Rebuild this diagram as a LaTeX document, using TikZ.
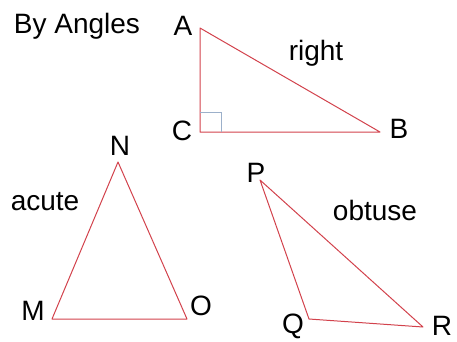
\documentclass[tikz,border=0pt]{standalone}
\usepackage{fontspec}
\setmainfont{Liberation Sans}
\definecolor{tri-red}{HTML}{D2424C}
\definecolor{tri-mark}{HTML}{9CB0CA}

\begin{document}
\begin{tikzpicture}[x=1pt,y=-1pt,
  side/.style={tri-red, line width=1pt, line join=round},
  lbl/.style={anchor=base, inner sep=0pt, font=\fontsize{28}{32}\selectfont}]
\useasboundingbox (0,0) rectangle (457,341);
\node[lbl] (title) at (77,33) {By Angles};
% right triangle
\coordinate (A) at (200,28);
\coordinate (C) at (200,132);
\coordinate (B) at (380,132);
\draw[side] (A) -- (B) -- (C) -- cycle;
\draw[tri-mark, line width=0.6pt] (C) ++(0,-20) -- ++(21,0) -- ++(0,20);
\node[lbl] (la) at (183,35) {A};
\node[lbl] (lc) at (182,140) {C};
\node[lbl] (lb) at (399,138) {B};
\node[lbl] (right) at (316,60) {right};
% acute triangle
\coordinate (N) at (118,162);
\coordinate (M) at (52,319);
\coordinate (O) at (187,319);
\draw[side] (N) -- (O) -- (M) -- cycle;
\node[lbl] (ln) at (120,155) {N};
\node[lbl] (lm) at (33,320) {M};
\node[lbl] (lo) at (201,315) {O};
\node[lbl] (acute) at (45,210) {acute};
% obtuse triangle
\coordinate (P) at (260,180);
\coordinate (Q) at (309,319);
\coordinate (R) at (423,327);
\draw[side] (P) -- (R) -- (Q) -- cycle;
\node[lbl] (lp) at (256,182) {P};
\node[lbl] (lq) at (293,333) {Q};
\node[lbl] (lr) at (442,335) {R};
\node[lbl] (obtuse) at (375,220) {obtuse};
\end{tikzpicture}
\end{document}
